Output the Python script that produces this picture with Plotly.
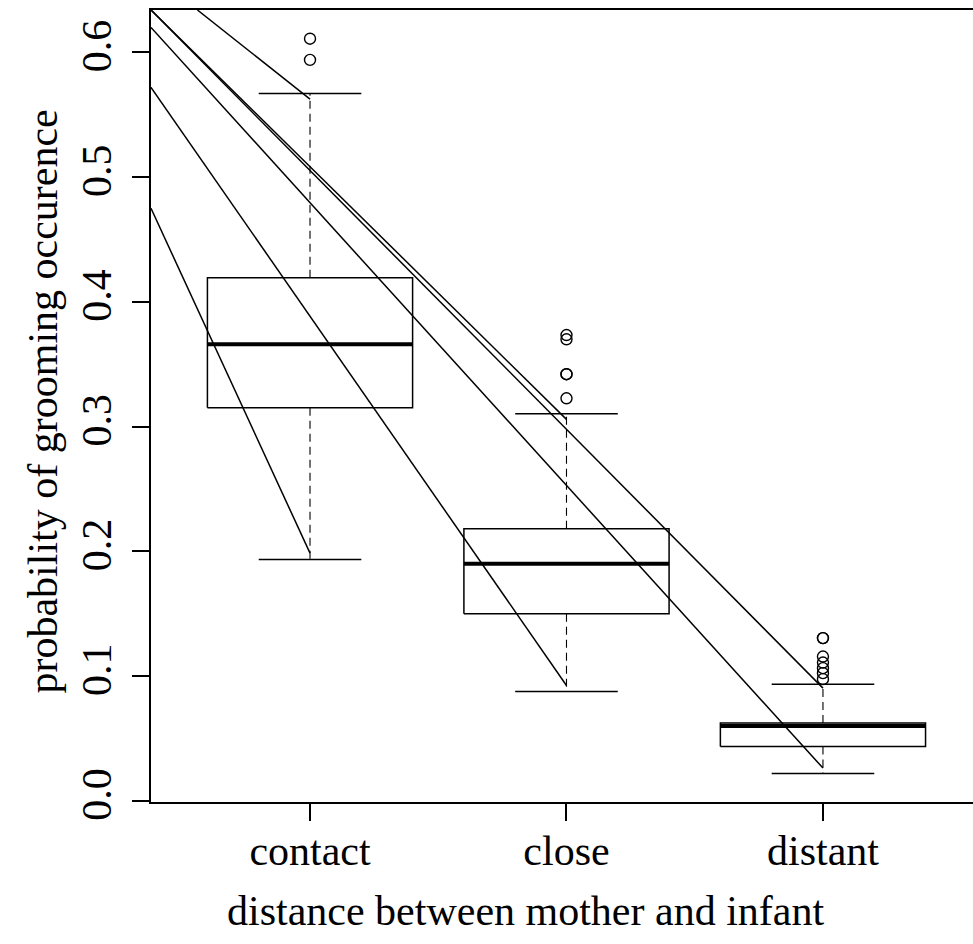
import plotly.graph_objects as go

# Grooming probability by mother-infant distance (R-style boxplot)
categories = ["contact", "close", "distant"]
positions = [1, 2, 3]

q1 = [0.315, 0.150, 0.0435]
median = [0.366, 0.190, 0.060]
q3 = [0.4193, 0.218, 0.0623]
lower_whisker = [0.1934, 0.0876, 0.0219]
upper_whisker = [0.567, 0.3103, 0.0935]

outliers = {
    "contact": [0.611, 0.594],
    "close": [0.3734, 0.370, 0.342, 0.342, 0.3227],
    "distant": [0.1304, 0.1304, 0.1156, 0.1108, 0.1063, 0.1023, 0.0975],
}

# Straight trend segments drawn over the boxes (start point -> end point)
seg_x0 = [0.38, 0.561, 0.38, 0.38, 0.38, 0.38]
seg_y0 = [0.475, 0.634, 0.572, 0.634, 0.620, 0.634]
seg_x1 = [1, 1, 2, 2, 3, 3]
seg_y1 = [0.1985, 0.5625, 0.0924, 0.3058, 0.0262, 0.0903]

y_ticks = [0.0, 0.1, 0.2, 0.3, 0.4, 0.5, 0.6]

x_title = "distance between mother and infant"
y_title = "probability of grooming occurence"

BOX_HALF = 0.4     # boxwex 0.8
CAP_HALF = 0.2     # staple width 0.5 * box
FONT = "Liberation Serif, Times New Roman, serif"
FS = 42

fig = go.Figure()

rect_x, rect_y = [], []
med_x, med_y = [], []
wh_x, wh_y = [], []
cap_x, cap_y = [], []
for p, a, m, b, lo, hi in zip(positions, q1, median, q3, lower_whisker, upper_whisker):
    rect_x += [p - BOX_HALF, p + BOX_HALF, p + BOX_HALF, p - BOX_HALF, p - BOX_HALF, None]
    rect_y += [a, a, b, b, a, None]
    med_x += [p - BOX_HALF, p + BOX_HALF, None]
    med_y += [m, m, None]
    wh_x += [p, p, None, p, p, None]
    wh_y += [b, hi, None, a, lo, None]
    cap_x += [p - CAP_HALF, p + CAP_HALF, None, p - CAP_HALF, p + CAP_HALF, None]
    cap_y += [hi, hi, None, lo, lo, None]

fig.add_trace(go.Scatter(x=wh_x, y=wh_y, mode="lines",
                         line=dict(color="black", width=1.1, dash="8px,5px"),
                         hoverinfo="skip"))
fig.add_trace(go.Scatter(x=cap_x, y=cap_y, mode="lines",
                         line=dict(color="black", width=1.5), hoverinfo="skip"))
fig.add_trace(go.Scatter(x=rect_x, y=rect_y, mode="lines",
                         line=dict(color="black", width=1.5), hoverinfo="skip"))
fig.add_trace(go.Scatter(x=med_x, y=med_y, mode="lines",
                         line=dict(color="black", width=4), hoverinfo="skip"))

out_x, out_y = [], []
for p, c in zip(positions, categories):
    for v in outliers[c]:
        out_x.append(p)
        out_y.append(v)
fig.add_trace(go.Scatter(x=out_x, y=out_y, mode="markers",
                         marker=dict(symbol="circle-open", size=11,
                                     color="black", line=dict(width=1.4)),
                         cliponaxis=False, hoverinfo="skip"))

sx, sy = [], []
for x0, y0, x1, y1 in zip(seg_x0, seg_y0, seg_x1, seg_y1):
    sx += [x0, x1, None]
    sy += [y0, y1, None]
fig.add_trace(go.Scatter(x=sx, y=sy, mode="lines",
                         line=dict(color="black", width=1.5), hoverinfo="skip"))

fig.update_layout(
    width=973, height=944,
    margin=dict(l=151, r=0, t=10, b=142),
    paper_bgcolor="white", plot_bgcolor="white",
    showlegend=False,
    font=dict(family=FONT, size=FS, color="black"),
    annotations=[
        dict(text=x_title, xref="paper", yref="paper",
             x=0.455, y=-0.138, xanchor="center", yanchor="middle",
             showarrow=False, font=dict(family=FONT, size=FS, color="black")),
        dict(text=y_title, xref="paper", yref="paper", textangle=-90,
             x=-0.131, y=0.506, xanchor="center", yanchor="middle",
             showarrow=False, font=dict(family=FONT, size=FS, color="black")),
    ],
)
fig.update_xaxes(
    range=[0.38, 3.585],
    tickmode="array", tickvals=positions, ticktext=categories,
    ticks="outside", ticklen=17, tickwidth=1.5, tickcolor="black",
    ticklabelstandoff=-6,
    showline=True, linecolor="black", linewidth=1.5, mirror=True,
    showgrid=False, zeroline=False,
    tickfont=dict(family=FONT, size=FS, color="black"),
)
fig.update_yaxes(
    range=[-0.001, 0.634],
    tickmode="array", tickvals=y_ticks,
    ticktext=[f"{v:.1f}" for v in y_ticks],
    tickangle=-90,
    ticks="outside", ticklen=17, tickwidth=1.5, tickcolor="black",
    ticklabelstandoff=4,
    showline=True, linecolor="black", linewidth=1.5, mirror=False,
    showgrid=False, zeroline=False,
    tickfont=dict(family=FONT, size=FS, color="black"),
)

fig.write_html("out.html")
